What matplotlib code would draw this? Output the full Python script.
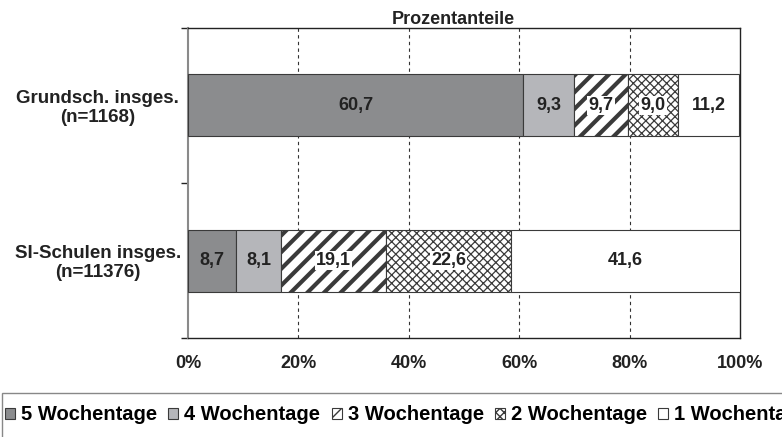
import numpy as np
import matplotlib.pyplot as plt
from matplotlib.patches import Rectangle

plt.rcParams['font.family'] = ['Liberation Sans', 'DejaVu Sans']
plt.rcParams['font.weight'] = 'bold'

groups = ['SI-Schulen insges.\n(n=11376)', 'Grundsch. insges.\n(n=1168)']
series = ['5 Wochentage', '4 Wochentage', '3 Wochentage', '2 Wochentage', '1 Wochentage']
values = [
    [8.7, 60.7],   # 5 Wochentage
    [8.1, 9.3],    # 4 Wochentage
    [19.1, 9.7],   # 3 Wochentage
    [22.6, 9.0],   # 2 Wochentage
    [41.6, 11.2],  # 1 Wochentag(e)
]
colors = ['#8b8c8e', '#b5b6ba', 'white', 'white', 'white']
hatches = [None, None, '//', 'xxxx', None]
hatch_lw = [1, 1, 3.0, 0.9, 1]

fig = plt.figure(figsize=(7.82, 4.37), dpi=100)
ax = fig.add_axes([188/782, 1-338/437, 552/782, 310/437])

y = np.arange(len(groups))
left = np.zeros(len(groups))
for i, name in enumerate(series):
    vals = np.array(values[i])
    bars = ax.barh(y, vals, left=left, height=0.4, color=colors[i],
                   edgecolor='#3a3a3a', linewidth=0.8, hatch=hatches[i],
                   label=name, zorder=3)
    for b in bars:
        try:
            b.set_hatch_linewidth(hatch_lw[i])
        except AttributeError:
            pass
    for yy, l, v in zip(y, left, vals):
        txt = f'{v:.1f}'.replace('.', ',')
        kw = {}
        if hatches[i]:
            kw['bbox'] = dict(facecolor='white', edgecolor='none', pad=1)
        ax.text(l + v/2, yy, txt, ha='center', va='center', fontsize=13,
                fontweight='bold', color='#222222', zorder=5, **kw)
    left += vals

ax.set_xlim(0, 100)
ax.set_ylim(-0.5, 1.5)
ax.set_xticks([0, 20, 40, 60, 80, 100])
ax.set_xticklabels([f'{t}%' for t in [0, 20, 40, 60, 80, 100]], fontsize=13, fontweight='bold', color='#222222')
ax.tick_params(axis='x', length=0, pad=12)
ax.set_yticks(y)
ax.set_yticklabels(groups, fontsize=13.5, fontweight='bold', color='#222222', ha='center',
                   linespacing=1.1)
ax.tick_params(axis='y', which='major', length=0, pad=65)
ax.set_yticks([-0.5, 0.5, 1.5], minor=True)
ax.tick_params(axis='y', which='minor', length=5, width=1, color='#222222')

for x in [20, 40, 60, 80]:
    ax.axvline(x, color='#333333', lw=0.8, linestyle=(0, (3, 3)), zorder=1)

ax.spines['left'].set_color('#8a8a8a')
ax.spines['left'].set_linewidth(1.5)
for s in ['top', 'bottom', 'right']:
    ax.spines[s].set_color('#222222')
    ax.spines[s].set_linewidth(1.0)

ax.set_title('Prozentanteile', fontsize=13, fontweight='bold', color='#222222', pad=3, x=0.48)

fig.patches.append(Rectangle((2/782, -0.2), 1.2, 0.2 + 1 - 393/437, transform=fig.transFigure,
                             facecolor='none', edgecolor='#888888', lw=1))
fig.legend(loc='center left', bbox_to_anchor=(5/782, 1 - 415/437), ncol=5, frameon=False,
           prop={'size': 14.5, 'weight': 'bold'}, handlelength=0.5, handleheight=0.5,
           handletextpad=0.3, columnspacing=0.55, borderaxespad=0, borderpad=0)

fig.savefig('out.png', dpi=100)
